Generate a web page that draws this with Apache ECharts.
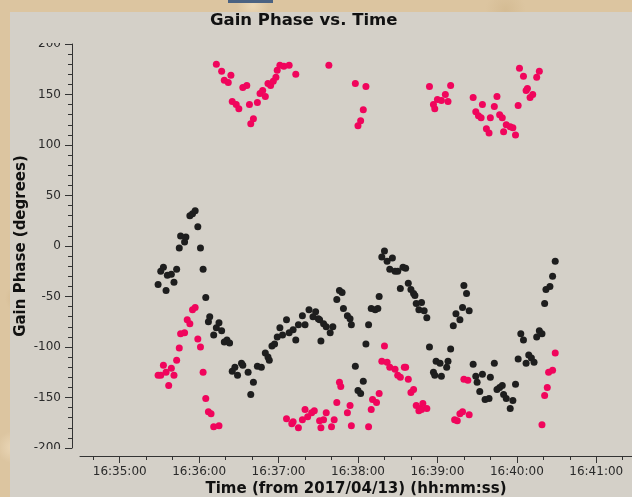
<!DOCTYPE html>
<html>
<head>
<meta charset="utf-8">
<script src="https://cdn.jsdelivr.net/npm/echarts@6/dist/echarts.min.js"></script>
<style>
  html, body { margin: 0; padding: 0; }
  body {
    width: 632px; height: 497px; overflow: hidden; position: relative;
    background-color: #dcc5a0;
    background-image:
      radial-gradient(circle at 8% 20%, rgba(240,222,190,0.7) 0, rgba(240,222,190,0) 18px),
      radial-gradient(circle at 3% 60%, rgba(200,170,125,0.5) 0, rgba(200,170,125,0) 14px),
      radial-gradient(circle at 40% 1%, rgba(238,220,188,0.8) 0, rgba(238,220,188,0) 16px),
      radial-gradient(circle at 80% 2%, rgba(205,178,135,0.5) 0, rgba(205,178,135,0) 20px),
      radial-gradient(circle at 2% 90%, rgba(240,222,192,0.7) 0, rgba(240,222,192,0) 16px);
  }
  #panel { position: absolute; left: 10px; top: 12px; width: 622px; height: 485px; background: #d4d0c8; }
  #tab { position: absolute; left: 228px; top: 0; width: 45px; height: 3px; background: #4a6282; }
  #chart { position: absolute; left: 0; top: 0; width: 632px; height: 497px; }
</style>
</head>
<body>
<div id="panel"></div>
<div id="tab"></div>
<div id="chart"></div>
<script>
// Antenna gain phase samples, 2017/04/13
const blackTimes = [
  '16:35:29','16:35:31','16:35:33','16:35:35','16:35:36','16:35:39','16:35:41','16:35:43','16:35:45','16:35:46',
  '16:35:49','16:35:50','16:35:53','16:35:55','16:35:57','16:35:59','16:36:01','16:36:03','16:36:05','16:36:07',
  '16:36:08','16:36:11','16:36:13','16:36:15','16:36:17','16:36:19','16:36:21','16:36:23','16:36:25','16:36:27',
  '16:36:29','16:36:32','16:36:33','16:36:37','16:36:39','16:36:41','16:36:44','16:36:47','16:36:50','16:36:52',
  '16:36:53','16:36:55','16:36:57','16:36:59','16:37:01','16:37:03','16:37:06','16:37:08','16:37:11','16:37:13',
  '16:37:15','16:37:18','16:37:20','16:37:23','16:37:26','16:37:28','16:37:30','16:37:31','16:37:32','16:37:34',
  '16:37:36','16:37:39','16:37:41','16:37:44','16:37:46','16:37:48','16:37:49','16:37:52','16:37:54','16:37:55',
  '16:37:58','16:38:00','16:38:02','16:38:04','16:38:06','16:38:08','16:38:10','16:38:13','16:38:15','16:38:16',
  '16:38:18','16:38:20','16:38:22','16:38:24','16:38:26','16:38:28','16:38:30','16:38:32','16:38:34','16:38:36',
  '16:38:38','16:38:40','16:38:42','16:38:43','16:38:44','16:38:46','16:38:48','16:38:50','16:38:52','16:38:54',
  '16:38:57','16:38:58','16:38:59','16:39:02','16:39:03','16:39:07','16:39:08','16:39:10','16:39:12','16:39:14',
  '16:39:17','16:39:19','16:39:20','16:39:22','16:39:24','16:39:27','16:39:29','16:39:30','16:39:32','16:39:34',
  '16:39:36','16:39:39','16:39:40','16:39:43','16:39:45','16:39:47','16:39:49','16:39:50','16:39:52','16:39:55',
  '16:39:57','16:39:59','16:40:01','16:40:03','16:40:05','16:40:07','16:40:09','16:40:11','16:40:13','16:40:15',
  '16:40:17','16:40:19','16:40:21','16:40:22','16:40:25','16:40:27','16:40:29'
];
const blackPhase = [
  -38,-25,-21,-44,-29,-28,-36,-23,-2,10,
  4,9,30,32,35,19,-2,-23,-51,-75,
  -70,-88,-81,-76,-84,-95,-93,-96,-124,-120,
  -128,-116,-118,-125,-147,-135,-119,-120,-106,-110,
  -113,-99,-97,-90,-81,-88,-73,-86,-83,-93,
  -78,-69,-78,-63,-70,-65,-72,-73,-94,-77,
  -80,-86,-80,-53,-44,-46,-62,-69,-72,-78,
  -119,-143,-146,-134,-97,-78,-62,-63,-62,-50,
  -11,-5,-15,-23,-12,-25,-25,-42,-21,-22,
  -37,-43,-47,-49,-57,-63,-56,-64,-71,-100,
  -125,-128,-114,-116,-129,-120,-114,-102,-79,-67,
  -73,-61,-39,-47,-64,-117,-129,-135,-144,-127,
  -152,-151,-130,-116,-142,-140,-138,-147,-151,-161,
  -153,-137,-112,-87,-93,-116,-108,-111,-115,-90,
  -84,-87,-57,-43,-40,-30,-15
];

const pinkTimes = [
  '16:35:29','16:35:31','16:35:33','16:35:35','16:35:37','16:35:39','16:35:41','16:35:43','16:35:45','16:35:46',
  '16:35:49','16:35:51','16:35:53','16:35:55','16:35:57','16:35:59','16:36:01','16:36:03','16:36:05','16:36:07',
  '16:36:09','16:36:11','16:36:15','16:36:13','16:36:17','16:36:19','16:36:22','16:36:24','16:36:25','16:36:28',
  '16:36:30','16:36:33','16:36:36','16:36:38','16:36:39','16:36:41','16:36:44','16:36:46','16:36:48','16:36:50',
  '16:36:52','16:36:54','16:36:56','16:36:58','16:36:59','16:37:01','16:37:04','16:37:06','16:37:08','16:37:10',
  '16:37:11','16:37:13','16:37:15','16:37:18','16:37:20','16:37:22','16:37:25','16:37:27','16:37:31','16:37:32',
  '16:37:34','16:37:36','16:37:38','16:37:40','16:37:42','16:37:44','16:37:46','16:37:47','16:37:52','16:37:54',
  '16:37:55','16:37:58','16:38:00','16:38:02','16:38:04','16:38:06','16:38:08','16:38:10','16:38:11','16:38:14',
  '16:38:16','16:38:18','16:38:20','16:38:22','16:38:24','16:38:28','16:38:30','16:38:32','16:38:35','16:38:36',
  '16:38:38','16:38:40','16:38:42','16:38:44','16:38:46','16:38:47','16:38:48','16:38:49','16:38:52','16:38:54',
  '16:38:57','16:38:58','16:39:00','16:39:03','16:39:06','16:39:08','16:39:10','16:39:13','16:39:15','16:39:17',
  '16:39:19','16:39:20','16:39:23','16:39:24','16:39:27','16:39:29','16:39:31','16:39:33','16:39:34','16:39:37',
  '16:39:39','16:39:40','16:39:43','16:39:45','16:39:47','16:39:49','16:39:50','16:39:52','16:39:55','16:39:57',
  '16:39:59','16:40:01','16:40:02','16:40:05','16:40:07','16:40:08','16:40:10','16:40:12','16:40:15','16:40:17',
  '16:40:19','16:40:21','16:40:23','16:40:24','16:40:27','16:40:29'
];
const pinkPhase = [
  -128,-128,-118,-125,-138,-121,-128,-113,-101,-87,
  -86,-73,-77,-63,-61,-92,-100,-125,-151,-164,
  -166,-179,-178,180,173,164,162,169,143,140,
  136,157,159,140,121,126,142,151,154,148,
  161,159,163,167,174,179,178,-171,179,-176,
  -174,170,-180,-172,-162,-169,-165,-163,-173,-180,
  -172,-165,179,-179,-172,-155,-135,-139,-165,-158,
  -178,161,119,124,135,158,-179,-162,-152,-155,
  -146,-114,-99,-115,-120,-122,-128,-130,-120,-120,
  -132,-145,-142,-158,-163,-161,-162,-156,-161,158,
  140,136,145,144,150,143,159,-172,-173,-166,
  -164,-132,-133,-167,147,133,129,127,140,116,
  112,127,138,148,130,127,113,120,118,117,
  110,139,176,168,154,156,147,150,167,173,
  -177,-148,-140,-125,-123,-106
];

const xMajorLabels = ['16:35:00','16:36:00','16:37:00','16:38:00','16:39:00','16:40:00','16:41:00'];
const yRange = [-200, 200];

const ORIGIN = '16:35:00';
function toSec(hms) {
  const p = hms.split(':').map(Number);
  return p[0] * 3600 + p[1] * 60 + p[2];
}
const originSec = toSec(ORIGIN);
function rel(hms) { return toSec(hms) - originSec; }
function fmt(v) {
  let t = Math.round(originSec + v);
  const h = Math.floor(t / 3600); t -= h * 3600;
  const m = Math.floor(t / 60); const s = t - m * 60;
  const pad = n => String(n).padStart(2, '0');
  return pad(h) + ':' + pad(m) + ':' + pad(s);
}

const xMin = rel('16:34:30');
const xMax = 387;
const majorTicks = xMajorLabels.map(rel);
const minorTicks = [];
for (let v = -20; v <= xMax; v += 20) minorTicks.push(v);

const blackData = blackTimes.map((t, i) => [rel(t), blackPhase[i]]);
const pinkData = pinkTimes.map((t, i) => [rel(t), pinkPhase[i]]);

const AX = '#333333';
const FONT = 'DejaVu Sans';
const PANEL = '#d4d0c8';

const chart = echarts.init(document.getElementById('chart'), null, { renderer: 'canvas' });
chart.setOption({
  backgroundColor: 'transparent',
  animation: false,
  title: {
    text: 'Gain Phase vs. Time',
    left: 210, top: 12, padding: 0,
    textStyle: { fontFamily: FONT, fontSize: 16.5, fontWeight: 'bold', color: '#111' }
  },
  grid: { left: 80, right: 0, top: 44, bottom: 49, containLabel: false, outerBoundsMode: 'none' },
  xAxis: [
    {
      type: 'value', min: xMin, max: xMax, position: 'bottom', offset: 8,
      name: 'Time (from 2017/04/13) (hh:mm:ss)', nameLocation: 'middle', nameGap: 26,
      nameMoveOverlap: false,
      nameTextStyle: { fontFamily: FONT, fontSize: 15, fontWeight: 'bold', color: '#111' },
      axisLine: { show: true, onZero: false, lineStyle: { color: AX, width: 1 } },
      axisTick: { show: true, customValues: majorTicks, length: 7, lineStyle: { color: AX } },
      axisLabel: { customValues: majorTicks, formatter: fmt, margin: 10, fontFamily: FONT, fontSize: 12, color: '#2a2a2a' },
      splitLine: { show: false }
    },
    {
      type: 'value', min: xMin, max: xMax, position: 'bottom', offset: 8,
      axisLine: { show: false, onZero: false },
      axisTick: { show: true, customValues: minorTicks, length: 4, lineStyle: { color: AX } },
      axisLabel: { show: false },
      splitLine: { show: false }
    }
  ],
  yAxis: {
    type: 'value', min: yRange[0], max: yRange[1], interval: 50, offset: 8, position: 'left',
    name: 'Gain Phase (degrees)', nameLocation: 'middle', nameGap: 43,
    nameMoveOverlap: false,
    nameTextStyle: { fontFamily: FONT, fontSize: 15, fontWeight: 'bold', color: '#111' },
    axisLine: { show: true, onZero: false, lineStyle: { color: AX, width: 1 } },
    axisTick: { show: true, inside: false, length: 7, lineStyle: { color: AX } },
    minorTick: { show: true, splitNumber: 5, length: 4, lineStyle: { color: AX } },
    axisLabel: { margin: 11, fontFamily: FONT, fontSize: 12, color: '#2a2a2a' },
    splitLine: { show: false },
    minorSplitLine: { show: false }
  },
  graphic: {
    elements: [
      // the end labels are cut off at the edges of the value range
      { type: 'rect', zlevel: 2, z: 100, shape: { x: 28, y: 28, width: 36, height: 15 }, style: { fill: PANEL } },
      { type: 'rect', zlevel: 2, z: 100, shape: { x: 28, y: 449, width: 36, height: 10 }, style: { fill: PANEL } }
    ]
  },
  series: [
    {
      type: 'scatter', xAxisIndex: 0, data: blackData, symbol: 'circle', symbolSize: 7,
      itemStyle: { color: '#1e1e1e', opacity: 1 }, silent: true
    },
    {
      type: 'scatter', xAxisIndex: 0, data: pinkData, symbol: 'circle', symbolSize: 7,
      itemStyle: { color: '#f0055c', opacity: 1 }, silent: true
    }
  ]
});
</script>
</body>
</html>
